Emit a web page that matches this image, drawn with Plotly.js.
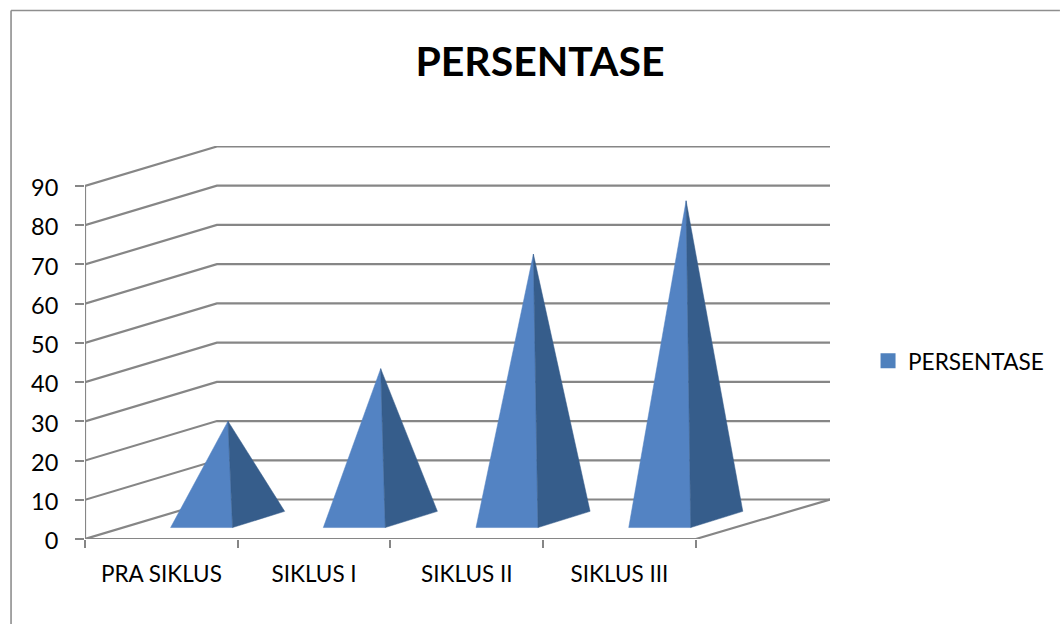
<!DOCTYPE html>
<html><head><meta charset="utf-8">
<script src="https://cdn.plot.ly/plotly-3.0.1.min.js"></script>
<style>html,body{margin:0;padding:0;background:#fff}#c{width:1060px;height:624px}</style>
</head><body><div id="c"></div>
<script>
var categories = ["PRA SIKLUS", "SIKLUS I", "SIKLUS II", "SIKLUS III"];
var persentase = [25, 38.4, 67.6, 81.2];
var yTicks = [0, 10, 20, 30, 40, 50, 60, 70, 80, 90];

// Oblique projection used for the 3-D look, in axis units
var W = 1060, H = 624, mL = 84.5, mR = 120, mT = 146, mB = 85, axisRightPx = 830;
var unitPx = 152.8, valuePx = 353 / 90;
var paperW = W - mL - mR, plotW = axisRightPx - mL, plotH = H - mT - mB;
var xMax = plotW / unitPx, yMax = plotH / valuePx;
var depthX = 132 / unitPx, depthY = 39.5 / valuePx;
var halfW = 31 / unitPx;
var GRID = "#868686", LEFT = "#5383C3", RIGHT = "#365D8B";
var font = "Lato, 'Open Sans', sans-serif";
var n = categories.length;
var tickX = categories.map(function (_, i) { return i; }).concat([n]);

function line(xs, ys) {
  return {type: "scatter", mode: "lines", x: xs, y: ys, showlegend: false, hoverinfo: "skip",
    cliponaxis: false, line: {color: GRID, width: 2.2}};
}
function face(xs, ys, color) {
  return {type: "scatter", mode: "lines", x: xs, y: ys, fill: "toself", fillcolor: color, showlegend: false,
    hoverinfo: "skip", cliponaxis: false, line: {color: color, width: 0.5}};
}
var traces = [];
yTicks.forEach(function (v) {
  traces.push(line([0, depthX, xMax], [v, v + depthY, v + depthY]));
});
traces.push(line([0, 0], [0, yTicks[yTicks.length - 1]]));
traces.push(line([0, n, xMax], [0, 0, depthY]));

var fFront = 0.305, fBackX = 0.70, fApex = 0.505, fFrontY = 0.29, fBackY = 0.70;
persentase.forEach(function (v, i) {
  var c = i + 0.5;
  var fl = c + fFront * depthX - halfW, fr = c + fFront * depthX + halfW;
  var br = c + fBackX * depthX + halfW;
  var ax = c + fApex * depthX, ay = v + 0.5 * depthY;
  var yF = fFrontY * depthY, yB = fBackY * depthY;
  traces.push(face([fl, fr, ax, fl], [yF, yF, ay, yF], LEFT));
  traces.push(face([fr, br, ax, fr], [yF, yB, ay, yF], RIGHT));
});
traces.push({type: "scatter", mode: "markers", x: [null], y: [null], name: "PERSENTASE",
  marker: {symbol: "square", size: 15, color: "#4F81BD"}, hoverinfo: "skip"});

function paperX(px) { return (px - mL) / paperW; }
function paperY(px) { return 1 - (px - mT) / plotH; }
var frame = {color: "#8E8E8E", width: 1.6};

var layout = {
  width: W, height: H, paper_bgcolor: "#fff", plot_bgcolor: "rgba(0,0,0,0)",
  margin: {l: mL, r: mR, t: mT, b: mB, pad: 0, autoexpand: false},
  font: {family: font, color: "#000", size: 19},
  title: {text: "<b>PERSENTASE</b>", x: 540 / W, xanchor: "center", y: 1 - 62 / H, yanchor: "middle",
    font: {family: font, size: 41, color: "#000"}},
  xaxis: {domain: [0, plotW / paperW], range: [0, xMax], showgrid: false, zeroline: false, showline: false, fixedrange: true,
    tickmode: "array", tickvals: categories.map(function (_, i) { return i + 0.5; }), ticktext: categories,
    ticks: "", ticklabelstandoff: 19, tickfont: {family: font, size: 22.5, color: "#000"},
    minor: {tickmode: "array", tickvals: tickX, ticks: "outside", ticklen: 8, tickwidth: 2, tickcolor: GRID, showgrid: false}},
  yaxis: {range: [0, yMax], showgrid: false, zeroline: false, showline: false, fixedrange: true,
    tickmode: "array", tickvals: yTicks, ticks: "outside", ticklen: 9, tickwidth: 2, tickcolor: GRID,
    ticklabelstandoff: 12, ticklabelshift: 2, tickfont: {family: font, size: 23.5, color: "#000"}},
  legend: {x: paperX(868), xanchor: "left", y: paperY(361), yanchor: "middle", bgcolor: "rgba(0,0,0,0)",
    font: {family: font, size: 22.6, color: "#000"}, itemwidth: 30},
  showlegend: true,
  shapes: [
    {type: "line", xref: "paper", yref: "paper", x0: paperX(10.5), x1: paperX(10.5), y0: paperY(10.5), y1: paperY(H), line: frame},
    {type: "line", xref: "paper", yref: "paper", x0: paperX(10.5), x1: paperX(W), y0: paperY(10.5), y1: paperY(10.5), line: frame}
  ]
};
Plotly.newPlot("c", traces, layout, {displayModeBar: false, staticPlot: true});
</script></body></html>
